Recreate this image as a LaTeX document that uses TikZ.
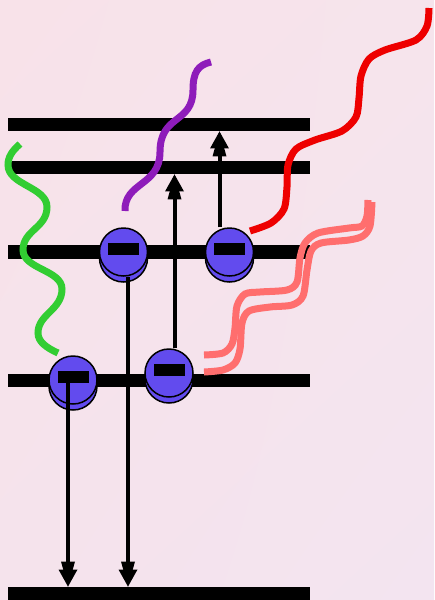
\documentclass[tikz,border=0pt]{standalone}
\usetikzlibrary{arrows.meta,shadows,shadings}
\definecolor{bgA}{RGB}{248,226,233}
\definecolor{bgB}{RGB}{246,228,236}
\definecolor{bgC}{RGB}{245,227,236}
\definecolor{bgD}{RGB}{243,228,240}
\definecolor{elec}{RGB}{98,75,238}
\definecolor{wgreen}{RGB}{50,205,50}
\definecolor{wpurple}{RGB}{142,28,186}
\definecolor{wred}{RGB}{238,0,0}
\definecolor{wsalmon}{RGB}{255,110,110}
\tikzstyle{level}=[rectangle, fill=black, minimum width=302pt, minimum height=13.5pt, inner sep=0pt]
\tikzstyle{electron}=[circle, draw=black, line width=1.5pt, fill=elec, minimum size=48pt, inner sep=0pt,
  general shadow={shadow yshift=-6pt, fill=elec, draw=black, line width=1.5pt},
  path picture={\fill[black] ([shift={(-15.5pt,9pt)}]path picture bounding box.center) rectangle ++(31pt,-12pt);}]
\tikzstyle{arr}=[line width=4pt, -{Triangle[width=14pt,length=25pt,line width=0pt,sep=-17pt]Triangle[width=19pt,length=17pt,line width=0pt]}]
\tikzstyle{wave}=[line width=7pt]

\begin{document}
\begin{tikzpicture}[x=1pt,y=-1pt]
            \shade[upper left=bgA, upper right=bgB, lower left=bgC, lower right=bgD] (0,0) rectangle (434,600);
            \useasboundingbox (0,0) rectangle (434,600);
            \node[level] at (159,124.5) (L1) {};
            \node[level] at (159,167.5) (L2) {};
            \node[level] at (159,252) (L3) {};
            \node[level] at (159,380.5) (L4) {};
            \node[level] at (159,593.5) (L5) {};
            \draw[wave, wgreen] (20,144) .. controls (12,151) and (8,157) .. (8,165)
                .. controls (8,185) and (47,187) .. (47,207)
                .. controls (47,228) and (23,230) .. (23,250)
                .. controls (23,269) and (62,270) .. (62,289)
                .. controls (62,310) and (38,314) .. (38,333)
                .. controls (38,342) and (47,348) .. (58,353);
            \draw[wave, wpurple] (125,211) .. controls (124,182) and (160,186) .. (160,152)
                .. controls (160,114) and (193,124) .. (193,90)
                .. controls (193,72) and (198,65) .. (211,62);
            \draw[wave, wred] plot[smooth] coordinates {(250,231) (271,223) (284,209) (287,187) (288,165) (296,149) (315,140) (342,131) (356,117) (359,98) (361,76) (369,59) (385,50) (416,40) (427,26) (429,8)};
            \draw[wave, wsalmon] plot[smooth] coordinates {(204,355) (223,353) (232,344) (235,328) (237,306) (245,294) (260,292) (287,290) (297,282) (300,258) (305,243) (318,233) (349,228) (362,226) (367,216) (368,200)};
            \draw[wave, wsalmon] plot[smooth] coordinates {(204,372) (223,370) (235,363) (240,349) (242,323) (249,311) (270,307) (292,305) (303,296) (307,270) (311,251) (321,243) (349,240) (363,236) (370,226) (372,202)};
            \node[electron] at (123.5,252) (eA) {};
            \node[electron] at (229.5,252) (eB) {};
            \node[electron] at (73,380) (eC) {};
            \node[electron] at (169,373) (eD) {};
            \draw[arr] ([xshift=-5pt]eC.center) -- ([xshift=-5pt]eC |- L5.north);
            \draw[arr] ([xshift=4.5pt]eA.south) -- ([xshift=4.5pt]eA |- L5.north);
            \draw[arr] ([xshift=5.5pt]eD.north) -- ([xshift=5.5pt]eD |- L2.south);
            \draw[arr] ([xshift=-10pt]eB.north) -- ([xshift=-10pt]eB |- L1.south);
\end{tikzpicture}
\end{document}
